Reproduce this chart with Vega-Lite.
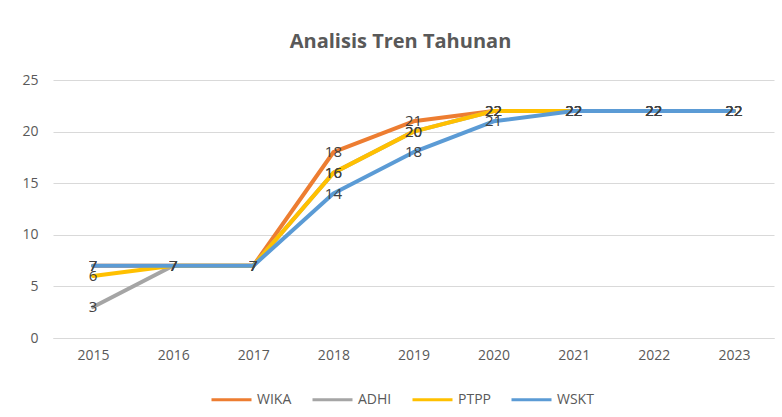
{
  "$schema": "https://vega.github.io/schema/vega-lite/v6.json",
  "autosize": {"type": "none"},
  "width": 721,
  "height": 258,
  "padding": {"left": 53, "top": 80, "right": 8, "bottom": 79},
  "background": "white",
  "title": {
    "text": "Analisis Tren Tahunan",
    "font": "Open Sans",
    "fontSize": 20,
    "fontWeight": "bold",
    "color": "#595959",
    "anchor": "middle",
    "offset": 21,
    "dx": -13
  },
  "config": {
    "view": {"stroke": null},
    "font": "Open Sans"
  },
  "data": {
    "values": [
      {"year": "2015", "series": "WIKA", "value": 7},
      {"year": "2016", "series": "WIKA", "value": 7},
      {"year": "2017", "series": "WIKA", "value": 7},
      {"year": "2018", "series": "WIKA", "value": 18},
      {"year": "2019", "series": "WIKA", "value": 21},
      {"year": "2020", "series": "WIKA", "value": 22},
      {"year": "2021", "series": "WIKA", "value": 22},
      {"year": "2022", "series": "WIKA", "value": 22},
      {"year": "2023", "series": "WIKA", "value": 22},
      {"year": "2015", "series": "ADHI", "value": 3},
      {"year": "2016", "series": "ADHI", "value": 7},
      {"year": "2017", "series": "ADHI", "value": 7},
      {"year": "2018", "series": "ADHI", "value": 16},
      {"year": "2019", "series": "ADHI", "value": 20},
      {"year": "2020", "series": "ADHI", "value": 22},
      {"year": "2021", "series": "ADHI", "value": 22},
      {"year": "2022", "series": "ADHI", "value": 22},
      {"year": "2023", "series": "ADHI", "value": 22},
      {"year": "2015", "series": "PTPP", "value": 6},
      {"year": "2016", "series": "PTPP", "value": 7},
      {"year": "2017", "series": "PTPP", "value": 7},
      {"year": "2018", "series": "PTPP", "value": 16},
      {"year": "2019", "series": "PTPP", "value": 20},
      {"year": "2020", "series": "PTPP", "value": 22},
      {"year": "2021", "series": "PTPP", "value": 22},
      {"year": "2022", "series": "PTPP", "value": 22},
      {"year": "2023", "series": "PTPP", "value": 22},
      {"year": "2015", "series": "WSKT", "value": 7},
      {"year": "2016", "series": "WSKT", "value": 7},
      {"year": "2017", "series": "WSKT", "value": 7},
      {"year": "2018", "series": "WSKT", "value": 14},
      {"year": "2019", "series": "WSKT", "value": 18},
      {"year": "2020", "series": "WSKT", "value": 21},
      {"year": "2021", "series": "WSKT", "value": 22},
      {"year": "2022", "series": "WSKT", "value": 22},
      {"year": "2023", "series": "WSKT", "value": 22}
    ]
  },
  "encoding": {
    "x": {
      "field": "year",
      "type": "ordinal",
      "scale": {"type": "point", "padding": 0.5},
      "axis": {
        "title": null,
        "labelAngle": 0,
        "labelFontSize": 14,
        "labelColor": "#595959",
        "labelPadding": 10,
        "ticks": false,
        "domain": true,
        "domainColor": "#d9d9d9",
        "grid": false
      }
    },
    "y": {
      "field": "value",
      "type": "quantitative",
      "scale": {"domain": [0, 25], "nice": false},
      "axis": {
        "title": null,
        "values": [0, 5, 10, 15, 20, 25],
        "labelFontSize": 14,
        "labelColor": "#595959",
        "labelPadding": 15,
        "ticks": false,
        "domain": false,
        "grid": true,
        "gridColor": "#d9d9d9",
        "gridWidth": 1
      }
    }
  },
  "layer": [
    {
      "mark": {"type": "line", "strokeWidth": 4, "strokeCap": "round", "strokeJoin": "round"},
      "encoding": {
        "color": {
          "field": "series",
          "type": "nominal",
          "sort": ["WIKA", "ADHI", "PTPP", "WSKT"],
          "scale": {
            "domain": ["WIKA", "ADHI", "PTPP", "WSKT"],
            "range": ["#ED7D31", "#A5A5A5", "#FFC000", "#5B9BD5"]
          },
          "legend": {
            "title": null,
            "orient": "none",
            "direction": "horizontal",
            "legendX": 157,
            "legendY": 298,
            "symbolType": "stroke",
            "symbolSize": 1600,
            "symbolStrokeWidth": 3,
            "labelFontSize": 14,
            "labelColor": "#595959",
            "labelOffset": 4,
            "columnPadding": 14
          }
        },
        "order": {"field": "series"}
      }
    },
    {
      "mark": {"type": "text", "fontSize": 15, "color": "#404040", "baseline": "middle", "align": "center"},
      "encoding": {
        "text": {"field": "value", "type": "quantitative"}
      }
    }
  ]
}
